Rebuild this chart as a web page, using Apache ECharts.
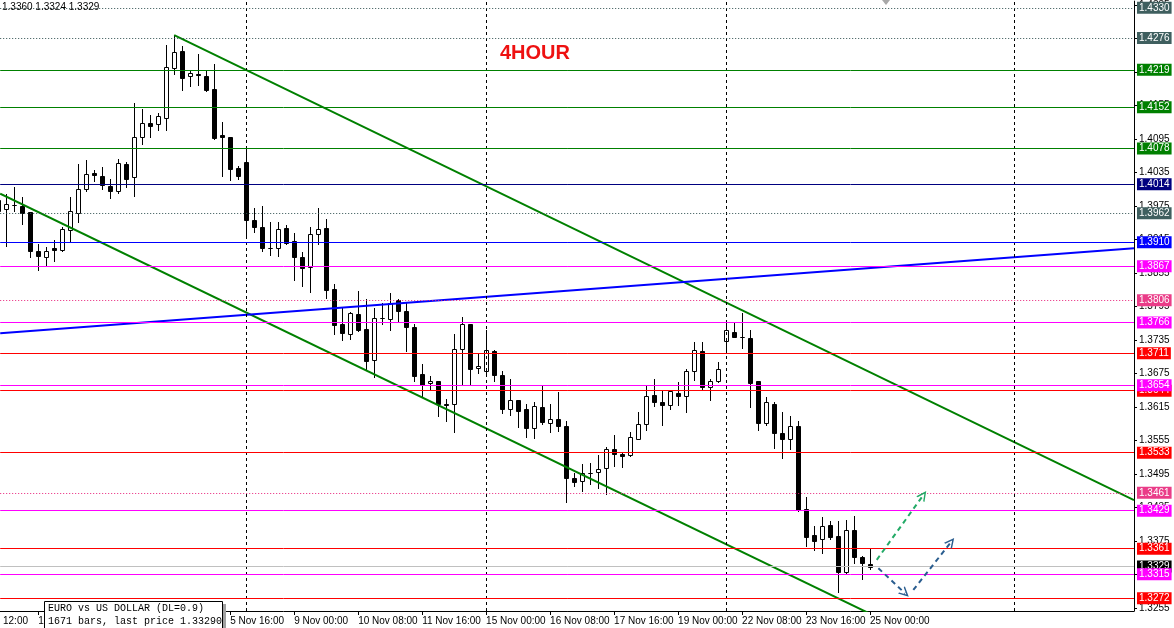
<!DOCTYPE html>
<html>
<head>
<meta charset="utf-8">
<script src="https://cdn.jsdelivr.net/npm/echarts@6/dist/echarts.min.js"></script>
<style>
html,body{margin:0;padding:0;background:#fff;}
#chart{width:1174px;height:628px;}
</style>
</head>
<body>
<div id="chart"></div>
<script>
// ---- data (bar index k: 0 = 1 Nov 00:00, 4-hour bars, weekends skipped) ----
const startIndex = -1;
const opens = [1.3986,1.3969,1.3977,1.3975,1.3965,1.3895,1.3883,1.3899,1.3896,1.3932,1.3963,1.4006,1.4034,1.4029,1.4011,1.4002,1.4051,1.4026,1.4098,1.4123,1.4122,1.4133,1.4223,1.4253,1.4207,1.4211,1.4208,1.4185,1.4102,1.4098,1.4043,1.4054,1.3950,1.3938,1.3900,1.3899,1.3936,1.3913,1.3884,1.3866,1.3925,1.3936,1.3826,1.3764,1.3746,1.3782,1.3754,1.3699,1.3774,1.3773,1.3806,1.3786,1.3758,1.3674,1.3657,1.3661,1.3621,1.3621,1.3719,1.3763,1.3684,1.3680,1.3716,1.3673,1.3611,1.3627,1.3611,1.3578,1.3614,1.3587,1.3593,1.3580,1.3487,1.3482,1.3497,1.3498,1.3505,1.3540,1.3531,1.3528,1.3558,1.3585,1.3636,1.3623,1.3619,1.3640,1.3634,1.3680,1.3716,1.3650,1.3661,1.3733,1.3750,1.3741,1.3739,1.3661,1.3586,1.3621,1.3568,1.3557,1.3580,1.3432,1.3385,1.3378,1.3403,1.3383,1.3320,1.3395,1.3346,1.3334];
const highs = [1.3997,1.3997,1.4009,1.3991,1.3965,1.3906,1.3901,1.3914,1.3937,1.3991,1.4051,1.4057,1.4039,1.4045,1.4023,1.4060,1.4053,1.4160,1.4148,1.4138,1.4142,1.4263,1.4281,1.4262,1.4217,1.4248,1.4217,1.4230,1.4126,1.4098,1.4047,1.4083,1.3972,1.3975,1.3947,1.3946,1.3940,1.3926,1.3892,1.3938,1.3972,1.3952,1.3835,1.3792,1.3785,1.3823,1.3809,1.3792,1.3801,1.3819,1.3809,1.3802,1.3764,1.3691,1.3670,1.3662,1.3629,1.3746,1.3776,1.3764,1.3710,1.3752,1.3717,1.3679,1.3665,1.3627,1.3620,1.3624,1.3652,1.3620,1.3642,1.3589,1.3496,1.3512,1.3515,1.3528,1.3543,1.3564,1.3534,1.3570,1.3606,1.3652,1.3665,1.3646,1.3646,1.3659,1.3682,1.3731,1.3731,1.3665,1.3695,1.3765,1.3765,1.3783,1.3752,1.3662,1.3632,1.3623,1.3605,1.3598,1.3589,1.3454,1.3401,1.3417,1.3410,1.3410,1.3412,1.3420,1.3348,1.3360];
const lows = [1.3959,1.3904,1.3966,1.3943,1.3883,1.3861,1.3868,1.3877,1.3894,1.3912,1.3946,1.4002,1.4020,1.4005,1.3990,1.3999,1.4009,1.3993,1.4086,1.4099,1.4111,1.4111,1.4212,1.4183,1.4190,1.4192,1.4181,1.4095,1.4029,1.4022,1.4023,1.3919,1.3928,1.3895,1.3888,1.3885,1.3907,1.3843,1.3832,1.3820,1.3907,1.3810,1.3746,1.3734,1.3737,1.3751,1.3683,1.3668,1.3763,1.3752,1.3768,1.3715,1.3661,1.3634,1.3645,1.3599,1.3590,1.3570,1.3655,1.3655,1.3676,1.3671,1.3661,1.3604,1.3600,1.3579,1.3561,1.3560,1.3585,1.3570,1.3572,1.3445,1.3473,1.3464,1.3476,1.3469,1.3459,1.3510,1.3507,1.3527,1.3558,1.3573,1.3616,1.3582,1.3611,1.3618,1.3606,1.3664,1.3645,1.3627,1.3659,1.3713,1.3740,1.3721,1.3614,1.3573,1.3583,1.3541,1.3523,1.3539,1.3429,1.3366,1.3358,1.3354,1.3378,1.3283,1.3317,1.3336,1.3307,1.3324];
const closes = [1.3966,1.3978,1.3977,1.3962,1.3894,1.3885,1.3895,1.3896,1.3934,1.3966,1.4005,1.4032,1.4030,1.4013,1.4001,1.4052,1.4024,1.4099,1.4123,1.4119,1.4136,1.4224,1.4251,1.4205,1.4213,1.4209,1.4183,1.4096,1.4098,1.4042,1.4029,1.3950,1.3938,1.3899,1.3899,1.3934,1.3909,1.3883,1.3864,1.3924,1.3934,1.3825,1.3762,1.3748,1.3783,1.3753,1.3697,1.3775,1.3774,1.3802,1.3786,1.3758,1.3671,1.3654,1.3661,1.3620,1.3619,1.3719,1.3763,1.3683,1.3689,1.3717,1.3673,1.3611,1.3628,1.3608,1.3577,1.3616,1.3588,1.3593,1.3581,1.3488,1.3481,1.3497,1.3497,1.3503,1.3540,1.3530,1.3527,1.3561,1.3585,1.3634,1.3624,1.3618,1.3643,1.3634,1.3680,1.3717,1.3650,1.3662,1.3682,1.3752,1.3740,1.3740,1.3658,1.3587,1.3623,1.3569,1.3557,1.3581,1.3430,1.3382,1.3375,1.3401,1.3382,1.3320,1.3395,1.3346,1.3335,1.3329];

// time labels; the first one is the clipped tail of a label that starts left of the window
const labelIdx = [-0.4,4,12,20,28,36,44,52,60,68,76,84,92,100,108];
const labelText = ["12:00","1 Nov 16:00","3 Nov 00:00","4 Nov 08:00","5 Nov 16:00","9 Nov 00:00","10 Nov 08:00","11 Nov 16:00","15 Nov 00:00","16 Nov 08:00","17 Nov 16:00","19 Nov 00:00","22 Nov 08:00","23 Nov 16:00","25 Nov 00:00"];
const tickIdx = [4,12,20,28,36,44,52,60,68,76,84,92,100,108];
const priceTicks = [1.3255,1.3315,1.3375,1.3435,1.3495,1.3555,1.3615,1.3675,1.3735,1.3795,1.3855,1.3915,1.3975,1.4035,1.4095,1.4155,1.4215,1.4275,1.4335];
const gridIdx = [30,60,90,126];

const levelPrices = [1.4330,1.4276,1.4219,1.4152,1.4078,1.4014,1.3962,1.3910,1.3867,1.3806,1.3766,1.3711,1.3644,1.3654,1.3533,1.3461,1.3429,1.3361,1.3329,1.3315,1.3272];
const levelKinds  = ['slate','slate','green','green','green','navy','slate','blue','magenta','pink','magenta','red','red','magenta','red','pink','magenta','red','bid','magenta','red'];

const upperChannel = [[21,1.4281],[141,1.3448]];
const lowerChannel = [[-0.75,1.3997],[115,1.3196]];
const blueTrend = [[-0.75,1.3747],[141,1.3899]];
const arrowUp = [[108.84,1.3341],[114.66,1.3457]];
const arrowDown = [[109.04,1.3326],[112.38,1.3281]];
const arrowUp2 = [[113.41,1.3287],[118.13,1.3373]];

// ---- styles ----
const FONT = 'Liberation Sans, Arial, sans-serif';
const kindStyle = {
  slate:   {line:'#2f4f4f', box:'#3f5f5f', dash:[1,2]},
  green:   {line:'#008000', box:'#008000', dash:'solid'},
  navy:    {line:'#000080', box:'#000080', dash:'solid'},
  blue:    {line:'#0000ff', box:'#0000ff', dash:'solid'},
  magenta: {line:'#ff00ff', box:'#ff00ff', dash:'solid'},
  pink:    {line:'#e8207a', box:'#ea3c88', dash:[1,2]},
  red:     {line:'#ff0000', box:'#ff0000', dash:'solid'},
  bid:     {line:'#c0c0c0', box:'#000000', dash:'solid'}
};

const candleData = opens.map((o, i) => [startIndex + i, o, closes[i], lows[i], highs[i]]);

function renderCandle(params, api) {
  const k = api.value(0), o = api.value(1), c = api.value(2), l = api.value(3), h = api.value(4);
  const pO = api.coord([k, o]), pC = api.coord([k, c]), pL = api.coord([k, l]), pH = api.coord([k, h]);
  const x = Math.round(pO[0]) + 0.5;
  const top = Math.round(Math.min(pO[1], pC[1])) + 0.5;
  const bot = Math.round(Math.max(pO[1], pC[1])) + 0.5;
  const up = c >= o;
  return {
    type: 'group',
    children: [
      {type:'line', shape:{x1:x, y1:Math.round(pH[1]), x2:x, y2:Math.round(pL[1]) + 1}, style:{stroke:'#000', lineWidth:1}},
      {type:'rect', shape:{x:x - 2, y:top, width:4, height:bot - top}, style:{fill: up ? '#fff' : '#000', stroke:'#000', lineWidth:1}}
    ]
  };
}

const levelMarks = levelPrices.map((p, i) => {
  const s = kindStyle[levelKinds[i]];
  return {
    yAxis: p,
    lineStyle: {color: s.line, type: s.dash, width: 1},
    label: {
      show: true, position: 'end', distance: 3,
      formatter: p.toFixed(4),
      color: '#fff', backgroundColor: s.box,
      padding: [1, 2, 0, 2], fontSize: 10, lineHeight: 11, fontFamily: FONT
    }
  };
});

const chevron = 'path://M0,10L5,0L10,10L8.4,10L5,3.2L1.6,10Z';

const yMin = 1.324935, yMax = 1.4342;

const option = {
  animation: false,
  backgroundColor: '#ffffff',
  grid: {left: 0, right: 40, top: 0, bottom: 17},
  xAxis: {
    type: 'value', min: -0.75, max: 141,
    axisLine: {show: true, onZero: false, lineStyle: {color: '#000', width: 1}},
    axisTick: {show: true, customValues: tickIdx, length: 4, lineStyle: {color: '#000'}},
    axisLabel: {
      customValues: labelIdx,
      formatter: v => { let j = -1, best = 1e9; labelIdx.forEach((t, n) => { const d = Math.abs(t - v); if (d < best) { best = d; j = n; } }); return labelText[j]; },
      align: 'left', margin: 5, fontSize: 10, color: '#000', fontFamily: FONT,
      showMinLabel: true, showMaxLabel: true
    },
    splitLine: {show: false}
  },
  yAxis: {
    type: 'value', position: 'right', min: yMin, max: yMax, scale: true,
    axisLine: {show: true, onZero: false, lineStyle: {color: '#000', width: 1}},
    axisTick: {show: true, customValues: priceTicks, length: 3, lineStyle: {color: '#000'}},
    axisLabel: {customValues: priceTicks, formatter: v => v.toFixed(4), margin: 5, fontSize: 10, color: '#000', fontFamily: FONT},
    splitLine: {show: false}
  },
  series: [
    {
      type: 'custom', name: 'EURUSD', renderItem: renderCandle, data: candleData,
      encode: {x: 0, y: [1, 2, 3, 4]}, z: 2, silent: true,
      markLine: {
        silent: true, symbol: ['none', 'none'], animation: false,
        data: gridIdx.map(k => ({xAxis: k, lineStyle: {color: '#000', type: [3, 3], width: 1}, label: {show: false}}))
      }
    },
    {type: 'line', data: upperChannel, symbol: 'none', lineStyle: {color: '#008000', width: 2}, z: 4, silent: true},
    {type: 'line', data: lowerChannel, symbol: 'none', lineStyle: {color: '#008000', width: 2}, z: 4, silent: true},
    {
      type: 'line', data: blueTrend, symbol: 'none', lineStyle: {color: '#0000ff', width: 2}, z: 4, silent: true,
      markLine: {silent: true, symbol: ['none', 'none'], precision: 4, animation: false, data: levelMarks}
    },
    {
      type: 'lines', coordinateSystem: 'cartesian2d', z: 6, silent: true,
      symbol: ['none', chevron], symbolSize: 10,
      lineStyle: {color: '#22aa66', width: 2, type: [5, 4], opacity: 1},
      data: [{coords: arrowUp}]
    },
    {
      type: 'lines', coordinateSystem: 'cartesian2d', z: 6, silent: true,
      symbol: ['none', chevron], symbolSize: 10,
      lineStyle: {color: '#2a5d8f', width: 2, type: [5, 4], opacity: 1},
      data: [{coords: arrowDown}, {coords: arrowUp2}]
    }
  ],
  graphic: [
    {type: 'text', left: 2, top: 2, z: 10, style: {text: '1.3360 1.3324 1.3329', fontSize: 10, fontFamily: FONT, fill: '#000'}},
    {type: 'text', x: 535, y: 53, z: 10, style: {text: '4HOUR', fontSize: 20, fontWeight: 'bold', fontFamily: FONT, fill: '#ee1111', align: 'center', verticalAlign: 'middle'}},
    {type: 'polygon', z: 10, shape: {points: [[882, 0], [890, 0], [886, 5]]}, style: {fill: '#a8a8a8'}},
    {type: 'rect', z: 20, shape: {x: 223, y: 604, width: 3, height: 30}, style: {fill: '#a0a0a0'}},
    {type: 'rect', z: 21, shape: {x: 44.5, y: 601.5, width: 178, height: 40}, style: {fill: '#fff', stroke: '#000', lineWidth: 1}},
    {type: 'text', z: 22, x: 48, y: 608, style: {text: 'EURO vs US DOLLAR (DL=0.9)', fontSize: 10, fontFamily: 'Liberation Mono, DejaVu Sans Mono, monospace', fill: '#000', verticalAlign: 'middle'}},
    {type: 'text', z: 22, x: 48, y: 621, style: {text: '1671 bars, last price 1.33290', fontSize: 10, fontFamily: 'Liberation Mono, DejaVu Sans Mono, monospace', fill: '#000', verticalAlign: 'middle'}}
  ]
};

const chart = echarts.init(document.getElementById('chart'), null, {renderer: 'canvas'});
chart.setOption(option);
</script>
</body>
</html>
